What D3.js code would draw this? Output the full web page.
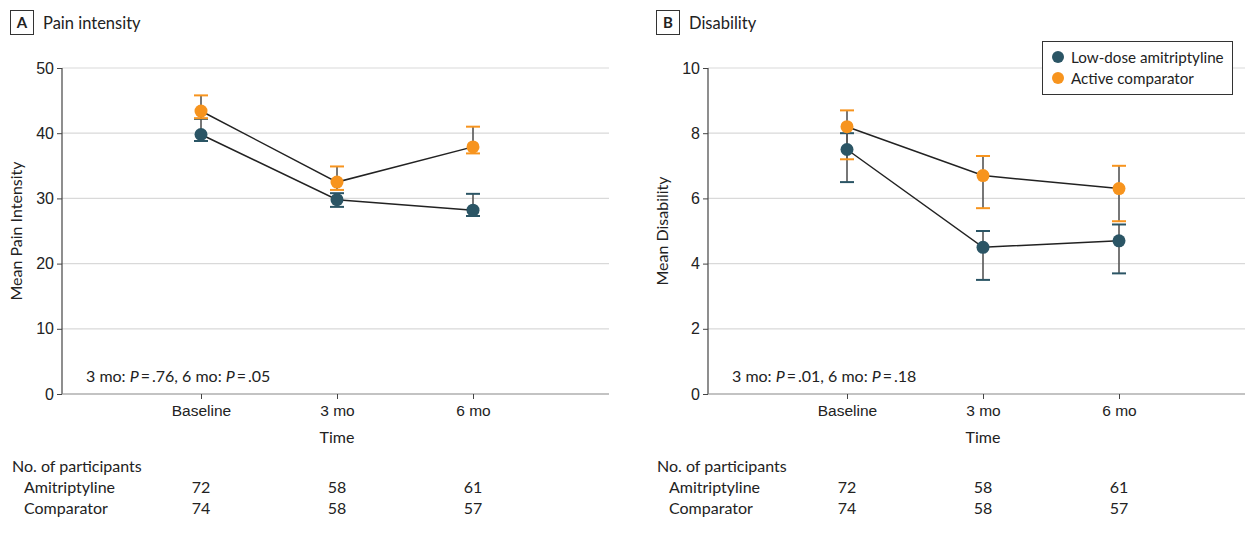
<!DOCTYPE html>
<html><head><meta charset="utf-8">
<script src="https://cdn.jsdelivr.net/npm/d3@7"></script>
<style>
body{margin:0;background:#fff;}
svg{display:block;font-family:"Lato",sans-serif;}
</style></head>
<body><svg id="c" width="1245" height="537"></svg>
<script>
const timepoints = ["Baseline", "3 mo", "6 mo"];
const seriesNames = ["Low-dose amitriptyline", "Active comparator"];
const seriesColors = ["#2b5565", "#f7941e"];
// Panel A: pain intensity
const painAmi = [39.8, 29.8, 28.2];
const painAmiLo = [38.8, 28.7, 27.3];
const painAmiHi = [42.2, 30.8, 30.7];
const painComp = [43.4, 32.5, 37.9];
const painCompLo = [42.3, 31.3, 36.9];
const painCompHi = [45.8, 34.9, 41.0];
const painTicks = [0, 10, 20, 30, 40, 50];
// Panel B: disability
const disAmi = [7.5, 4.5, 4.7];
const disAmiLo = [6.5, 3.5, 3.7];
const disAmiHi = [8.0, 5.0, 5.2];
const disComp = [8.2, 6.7, 6.3];
const disCompLo = [7.2, 5.7, 5.3];
const disCompHi = [8.7, 7.3, 7.0];
const disTicks = [0, 2, 4, 6, 8, 10];
// participants
const nAmi = [72, 58, 61];
const nComp = [74, 58, 57];

const FS = 16;
const svg = d3.select("#c");

function panel(opt){
  const g = svg.append("g");
  const left = opt.left, top = 68, bottom = 394, width = 547;
  const x = d3.scaleLinear().domain([-139 / 136, 3]).range([left, left + width]);
  const y = d3.scaleLinear().domain([0, opt.max]).range([bottom, top]);
  // panel label
  g.append("rect").attr("x", opt.labX + 0.5).attr("y", 10.5).attr("width", 23).attr("height", 24)
    .attr("fill", "none").attr("stroke", "#333").attr("stroke-width", 1);
  g.append("text").attr("x", opt.labX + 12).attr("y", 28).attr("text-anchor", "middle")
    .attr("font-weight", "bold").attr("font-size", 15).attr("fill", "#222").text(opt.letter);
  g.append("text").attr("x", opt.labX + 33).attr("y", 28.5).attr("font-size", 16.5).attr("fill", "#222").text(opt.title);
  // grid
  g.append("g").selectAll("line").data(opt.ticks.filter(t => t > 0)).join("line")
    .attr("x1", left).attr("x2", left + width).attr("y1", d => y(d)).attr("y2", d => y(d))
    .attr("stroke", "#d9d9d9").attr("stroke-width", 1.2);
  // y axis
  const ya = g.append("g").attr("transform", `translate(${left},0)`)
    .call(d3.axisLeft(y).tickValues(opt.ticks).tickSize(5).tickPadding(3));
  ya.select(".domain").attr("stroke", "#444").attr("stroke-width", 1.2).attr("d", `M-0,${top}V${bottom}`);
  ya.selectAll(".tick line").attr("stroke", "#444");
  ya.selectAll(".tick text").attr("font-size", FS).attr("fill", "#222").attr("font-family", null);
  // x axis
  const xa = g.append("g").attr("transform", `translate(0,${bottom})`)
    .call(d3.axisBottom(x).tickValues([0, 1, 2]).tickFormat(i => timepoints[i]).tickSize(5).tickPadding(6));
  xa.select(".domain").attr("stroke", "#888").attr("stroke-width", 1.2).attr("d", `M${left},0H${left + width}`);
  xa.selectAll(".tick line").attr("stroke", "#444");
  xa.selectAll(".tick text").attr("font-size", 15.5).attr("fill", "#222").attr("font-family", null);
  // axis titles
  g.append("text").attr("x", x(1)).attr("y", 443).attr("text-anchor", "middle").attr("font-size", FS).attr("fill", "#222").text("Time");
  g.append("text").attr("transform", `translate(${left - 40},${(top + bottom) / 2}) rotate(-90)`)
    .attr("text-anchor", "middle").attr("font-size", FS).attr("fill", "#222").text(opt.ytitle);
  // p text
  const pt = g.append("text").attr("x", left + 24).attr("y", 382).attr("font-size", FS).attr("fill", "#222");
  pt.append("tspan").text("3 mo: ");
  pt.append("tspan").attr("font-style", "italic").text("P");
  pt.append("tspan").text("\u2009=\u2009" + opt.p3 + ", 6 mo: ");
  pt.append("tspan").attr("font-style", "italic").text("P");
  pt.append("tspan").text("\u2009=\u2009" + opt.p6);
  // series
  const series = [
    {v: opt.ami, lo: opt.amiLo, hi: opt.amiHi, c: seriesColors[0]},
    {v: opt.comp, lo: opt.compLo, hi: opt.compHi, c: seriesColors[1]}
  ];
  const line = d3.line().x((d, i) => x(i)).y(d => y(d));
  series.forEach(s => {
    g.append("path").attr("d", line(s.v)).attr("fill", "none").attr("stroke", "#222").attr("stroke-width", 1.5);
  });
  series.forEach(s => {
    const eg = g.append("g");
    s.v.forEach((v, i) => {
      eg.append("line").attr("x1", x(i)).attr("x2", x(i)).attr("y1", y(s.lo[i])).attr("y2", y(s.hi[i]))
        .attr("stroke", "#555").attr("stroke-width", 1.6);
      [s.lo[i], s.hi[i]].forEach(e => {
        eg.append("line").attr("x1", x(i) - 7).attr("x2", x(i) + 7).attr("y1", y(e)).attr("y2", y(e))
          .attr("stroke", s.c).attr("stroke-width", 2);
      });
    });
  });
  series.forEach(s => {
    g.append("g").selectAll("circle").data(s.v).join("circle")
      .attr("cx", (d, i) => x(i)).attr("cy", d => y(d)).attr("r", 6.5).attr("fill", s.c);
  });
  // participants table
  const tx = opt.tabX;
  g.append("text").attr("x", tx).attr("y", 472).attr("font-size", FS).attr("fill", "#222").text("No. of participants");
  g.append("text").attr("x", tx + 12).attr("y", 493).attr("font-size", FS).attr("fill", "#222").text("Amitriptyline");
  g.append("text").attr("x", tx + 12).attr("y", 514).attr("font-size", FS).attr("fill", "#222").text("Comparator");
  [[nAmi, 493], [nComp, 514]].forEach(([arr, yy]) => {
    g.append("g").selectAll("text").data(arr).join("text")
      .attr("x", (d, i) => x(i)).attr("y", yy).attr("text-anchor", "middle").attr("font-size", FS).attr("fill", "#222").text(d => d);
  });
}

panel({left: 62, labX: 10, tabX: 12, letter: "A", title: "Pain intensity", ytitle: "Mean Pain Intensity", max: 50, ticks: painTicks,
  ami: painAmi, amiLo: painAmiLo, amiHi: painAmiHi, comp: painComp, compLo: painCompLo, compHi: painCompHi, p3: ".76", p6: ".05"});
panel({left: 708, labX: 656, tabX: 657, letter: "B", title: "Disability", ytitle: "Mean Disability", max: 10, ticks: disTicks,
  ami: disAmi, amiLo: disAmiLo, amiHi: disAmiHi, comp: disComp, compLo: disCompLo, compHi: disCompHi, p3: ".01", p6: ".18"});

// legend
const lg = svg.append("g");
lg.append("rect").attr("x", 1042.5).attr("y", 41.5).attr("width", 190).attr("height", 53)
  .attr("fill", "#fff").attr("stroke", "#333").attr("stroke-width", 1);
seriesNames.forEach((n, i) => {
  lg.append("circle").attr("cx", 1058).attr("cy", 57 + i * 21).attr("r", 6).attr("fill", seriesColors[i]);
  lg.append("text").attr("x", 1071).attr("y", 62.5 + i * 21).attr("font-size", 15.2).attr("fill", "#222").text(n);
});
</script></body></html>
